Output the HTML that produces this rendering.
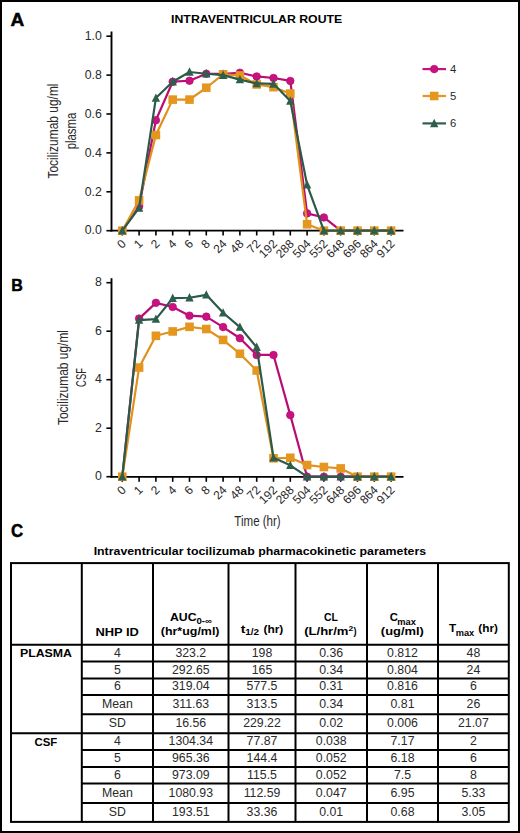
<!DOCTYPE html><html><head><meta charset="utf-8"><style>html,body{margin:0;padding:0;background:#fff;}svg{display:block;}text{font-family:"Liberation Sans",sans-serif;}</style></head><body>
<svg width="520" height="833" viewBox="0 0 520 833">
<rect x="0" y="0" width="520" height="833" fill="#fff"/>
<rect x="1" y="1" width="518" height="831" fill="none" stroke="#000" stroke-width="2"/>
<text x="10.62" y="25.60" font-size="18.46" font-weight="bold" fill="#000" textLength="13.78" lengthAdjust="spacingAndGlyphs" stroke="#000" stroke-width="0.5">A</text>
<text x="11.13" y="290.60" font-size="17.3" font-weight="bold" fill="#000" textLength="11.60" lengthAdjust="spacingAndGlyphs" stroke="#000" stroke-width="0.5">B</text>
<text x="11.11" y="537.00" font-size="18.19" font-weight="bold" fill="#000" textLength="12.15" lengthAdjust="spacingAndGlyphs" stroke="#000" stroke-width="0.5">C</text>
<text x="171.08" y="22.70" font-size="10.76" font-weight="bold" fill="#000" textLength="171.20" lengthAdjust="spacingAndGlyphs">INTRAVENTRICULAR ROUTE</text>
<line x1="111.5" y1="31.5" x2="111.5" y2="231.6" stroke="#000" stroke-width="1.9"/>
<line x1="110.6" y1="230.6" x2="403.5" y2="230.6" stroke="#000" stroke-width="1.9"/>
<line x1="106.4" y1="230.70" x2="111" y2="230.70" stroke="#000" stroke-width="1.6"/>
<text x="101.8" y="234.40" text-anchor="end" font-size="12.3" fill="#2a2a2a">0.0</text>
<line x1="106.4" y1="191.80" x2="111" y2="191.80" stroke="#000" stroke-width="1.6"/>
<text x="101.8" y="195.50" text-anchor="end" font-size="12.3" fill="#2a2a2a">0.2</text>
<line x1="106.4" y1="152.90" x2="111" y2="152.90" stroke="#000" stroke-width="1.6"/>
<text x="101.8" y="156.60" text-anchor="end" font-size="12.3" fill="#2a2a2a">0.4</text>
<line x1="106.4" y1="114.00" x2="111" y2="114.00" stroke="#000" stroke-width="1.6"/>
<text x="101.8" y="117.70" text-anchor="end" font-size="12.3" fill="#2a2a2a">0.6</text>
<line x1="106.4" y1="75.10" x2="111" y2="75.10" stroke="#000" stroke-width="1.6"/>
<text x="101.8" y="78.80" text-anchor="end" font-size="12.3" fill="#2a2a2a">0.8</text>
<line x1="106.4" y1="36.20" x2="111" y2="36.20" stroke="#000" stroke-width="1.6"/>
<text x="101.8" y="39.90" text-anchor="end" font-size="12.3" fill="#2a2a2a">1.0</text>
<line x1="122.30" y1="230.6" x2="122.30" y2="235.5" stroke="#000" stroke-width="1.6"/>
<text transform="translate(126.80,244.50) rotate(-45)" text-anchor="end" font-size="12" fill="#2a2a2a">0</text>
<line x1="139.10" y1="230.6" x2="139.10" y2="235.5" stroke="#000" stroke-width="1.6"/>
<text transform="translate(143.60,244.50) rotate(-45)" text-anchor="end" font-size="12" fill="#2a2a2a">1</text>
<line x1="155.90" y1="230.6" x2="155.90" y2="235.5" stroke="#000" stroke-width="1.6"/>
<text transform="translate(160.40,244.50) rotate(-45)" text-anchor="end" font-size="12" fill="#2a2a2a">2</text>
<line x1="172.70" y1="230.6" x2="172.70" y2="235.5" stroke="#000" stroke-width="1.6"/>
<text transform="translate(177.20,244.50) rotate(-45)" text-anchor="end" font-size="12" fill="#2a2a2a">4</text>
<line x1="189.50" y1="230.6" x2="189.50" y2="235.5" stroke="#000" stroke-width="1.6"/>
<text transform="translate(194.00,244.50) rotate(-45)" text-anchor="end" font-size="12" fill="#2a2a2a">6</text>
<line x1="206.30" y1="230.6" x2="206.30" y2="235.5" stroke="#000" stroke-width="1.6"/>
<text transform="translate(210.80,244.50) rotate(-45)" text-anchor="end" font-size="12" fill="#2a2a2a">8</text>
<line x1="223.10" y1="230.6" x2="223.10" y2="235.5" stroke="#000" stroke-width="1.6"/>
<text transform="translate(227.60,244.50) rotate(-45)" text-anchor="end" font-size="12" fill="#2a2a2a">24</text>
<line x1="239.90" y1="230.6" x2="239.90" y2="235.5" stroke="#000" stroke-width="1.6"/>
<text transform="translate(244.40,244.50) rotate(-45)" text-anchor="end" font-size="12" fill="#2a2a2a">48</text>
<line x1="256.70" y1="230.6" x2="256.70" y2="235.5" stroke="#000" stroke-width="1.6"/>
<text transform="translate(261.20,244.50) rotate(-45)" text-anchor="end" font-size="12" fill="#2a2a2a">72</text>
<line x1="273.50" y1="230.6" x2="273.50" y2="235.5" stroke="#000" stroke-width="1.6"/>
<text transform="translate(278.00,244.50) rotate(-45)" text-anchor="end" font-size="12" fill="#2a2a2a">192</text>
<line x1="290.30" y1="230.6" x2="290.30" y2="235.5" stroke="#000" stroke-width="1.6"/>
<text transform="translate(294.80,244.50) rotate(-45)" text-anchor="end" font-size="12" fill="#2a2a2a">288</text>
<line x1="307.10" y1="230.6" x2="307.10" y2="235.5" stroke="#000" stroke-width="1.6"/>
<text transform="translate(311.60,244.50) rotate(-45)" text-anchor="end" font-size="12" fill="#2a2a2a">504</text>
<line x1="323.90" y1="230.6" x2="323.90" y2="235.5" stroke="#000" stroke-width="1.6"/>
<text transform="translate(328.40,244.50) rotate(-45)" text-anchor="end" font-size="12" fill="#2a2a2a">552</text>
<line x1="340.70" y1="230.6" x2="340.70" y2="235.5" stroke="#000" stroke-width="1.6"/>
<text transform="translate(345.20,244.50) rotate(-45)" text-anchor="end" font-size="12" fill="#2a2a2a">648</text>
<line x1="357.50" y1="230.6" x2="357.50" y2="235.5" stroke="#000" stroke-width="1.6"/>
<text transform="translate(362.00,244.50) rotate(-45)" text-anchor="end" font-size="12" fill="#2a2a2a">696</text>
<line x1="374.30" y1="230.6" x2="374.30" y2="235.5" stroke="#000" stroke-width="1.6"/>
<text transform="translate(378.80,244.50) rotate(-45)" text-anchor="end" font-size="12" fill="#2a2a2a">864</text>
<line x1="391.10" y1="230.6" x2="391.10" y2="235.5" stroke="#000" stroke-width="1.6"/>
<text transform="translate(395.60,244.50) rotate(-45)" text-anchor="end" font-size="12" fill="#2a2a2a">912</text>
<text transform="translate(57.7,131) rotate(-90)" text-anchor="middle" font-size="14" fill="#2a2a2a" textLength="95" lengthAdjust="spacingAndGlyphs">Tocilizumab ug/ml</text>
<text transform="translate(75.5,131) rotate(-90)" text-anchor="middle" font-size="14" fill="#2a2a2a" textLength="36.7" lengthAdjust="spacingAndGlyphs">plasma</text>
<polyline points="122.30,230.70 139.10,206.39 155.90,120.22 172.70,81.71 189.50,80.74 206.30,73.74 223.10,73.93 239.90,72.77 256.70,76.46 273.50,78.02 290.30,80.93 307.10,213.39 323.90,217.47 340.70,230.70 357.50,230.70 374.30,230.70 391.10,230.70" fill="none" stroke="#b80d74" stroke-width="2.2" stroke-linejoin="round"/>
<circle cx="122.30" cy="230.70" r="3.8" fill="#c8127f" stroke="#b80d74" stroke-width="0.7"/>
<circle cx="139.10" cy="206.39" r="3.8" fill="#c8127f" stroke="#b80d74" stroke-width="0.7"/>
<circle cx="155.90" cy="120.22" r="3.8" fill="#c8127f" stroke="#b80d74" stroke-width="0.7"/>
<circle cx="172.70" cy="81.71" r="3.8" fill="#c8127f" stroke="#b80d74" stroke-width="0.7"/>
<circle cx="189.50" cy="80.74" r="3.8" fill="#c8127f" stroke="#b80d74" stroke-width="0.7"/>
<circle cx="206.30" cy="73.74" r="3.8" fill="#c8127f" stroke="#b80d74" stroke-width="0.7"/>
<circle cx="223.10" cy="73.93" r="3.8" fill="#c8127f" stroke="#b80d74" stroke-width="0.7"/>
<circle cx="239.90" cy="72.77" r="3.8" fill="#c8127f" stroke="#b80d74" stroke-width="0.7"/>
<circle cx="256.70" cy="76.46" r="3.8" fill="#c8127f" stroke="#b80d74" stroke-width="0.7"/>
<circle cx="273.50" cy="78.02" r="3.8" fill="#c8127f" stroke="#b80d74" stroke-width="0.7"/>
<circle cx="290.30" cy="80.93" r="3.8" fill="#c8127f" stroke="#b80d74" stroke-width="0.7"/>
<circle cx="307.10" cy="213.39" r="3.8" fill="#c8127f" stroke="#b80d74" stroke-width="0.7"/>
<circle cx="323.90" cy="217.47" r="3.8" fill="#c8127f" stroke="#b80d74" stroke-width="0.7"/>
<circle cx="340.70" cy="230.70" r="3.8" fill="#c8127f" stroke="#b80d74" stroke-width="0.7"/>
<circle cx="357.50" cy="230.70" r="3.8" fill="#c8127f" stroke="#b80d74" stroke-width="0.7"/>
<circle cx="374.30" cy="230.70" r="3.8" fill="#c8127f" stroke="#b80d74" stroke-width="0.7"/>
<circle cx="391.10" cy="230.70" r="3.8" fill="#c8127f" stroke="#b80d74" stroke-width="0.7"/>
<polyline points="122.30,230.70 139.10,200.36 155.90,135.01 172.70,99.61 189.50,99.61 206.30,87.74 223.10,74.32 239.90,75.49 256.70,84.44 273.50,87.16 290.30,93.58 307.10,224.28 323.90,230.70 340.70,230.70 357.50,230.70 374.30,230.70 391.10,230.70" fill="none" stroke="#e0901c" stroke-width="2.2" stroke-linejoin="round"/>
<rect x="118.00" y="226.40" width="8.6" height="8.6" fill="#e5961f"/>
<rect x="134.80" y="196.06" width="8.6" height="8.6" fill="#e5961f"/>
<rect x="151.60" y="130.71" width="8.6" height="8.6" fill="#e5961f"/>
<rect x="168.40" y="95.31" width="8.6" height="8.6" fill="#e5961f"/>
<rect x="185.20" y="95.31" width="8.6" height="8.6" fill="#e5961f"/>
<rect x="202.00" y="83.44" width="8.6" height="8.6" fill="#e5961f"/>
<rect x="218.80" y="70.02" width="8.6" height="8.6" fill="#e5961f"/>
<rect x="235.60" y="71.19" width="8.6" height="8.6" fill="#e5961f"/>
<rect x="252.40" y="80.14" width="8.6" height="8.6" fill="#e5961f"/>
<rect x="269.20" y="82.86" width="8.6" height="8.6" fill="#e5961f"/>
<rect x="286.00" y="89.28" width="8.6" height="8.6" fill="#e5961f"/>
<rect x="302.80" y="219.98" width="8.6" height="8.6" fill="#e5961f"/>
<rect x="319.60" y="226.40" width="8.6" height="8.6" fill="#e5961f"/>
<rect x="336.40" y="226.40" width="8.6" height="8.6" fill="#e5961f"/>
<rect x="353.20" y="226.40" width="8.6" height="8.6" fill="#e5961f"/>
<rect x="370.00" y="226.40" width="8.6" height="8.6" fill="#e5961f"/>
<rect x="386.80" y="226.40" width="8.6" height="8.6" fill="#e5961f"/>
<polyline points="122.30,230.70 139.10,207.94 155.90,98.05 172.70,81.71 189.50,71.99 206.30,73.74 223.10,75.10 239.90,79.57 256.70,83.46 273.50,83.85 290.30,100.97 307.10,184.80 323.90,230.70 340.70,230.70 357.50,230.70 374.30,230.70 391.10,230.70" fill="none" stroke="#2b5a48" stroke-width="2.2" stroke-linejoin="round"/>
<path d="M122.30 226.08L126.50 234.48L118.10 234.48Z" fill="#2e5f4c"/>
<path d="M139.10 203.32L143.30 211.72L134.90 211.72Z" fill="#2e5f4c"/>
<path d="M155.90 93.43L160.10 101.83L151.70 101.83Z" fill="#2e5f4c"/>
<path d="M172.70 77.09L176.90 85.49L168.50 85.49Z" fill="#2e5f4c"/>
<path d="M189.50 67.37L193.70 75.77L185.30 75.77Z" fill="#2e5f4c"/>
<path d="M206.30 69.12L210.50 77.52L202.10 77.52Z" fill="#2e5f4c"/>
<path d="M223.10 70.48L227.30 78.88L218.90 78.88Z" fill="#2e5f4c"/>
<path d="M239.90 74.95L244.10 83.35L235.70 83.35Z" fill="#2e5f4c"/>
<path d="M256.70 78.84L260.90 87.24L252.50 87.24Z" fill="#2e5f4c"/>
<path d="M273.50 79.23L277.70 87.63L269.30 87.63Z" fill="#2e5f4c"/>
<path d="M290.30 96.35L294.50 104.75L286.10 104.75Z" fill="#2e5f4c"/>
<path d="M307.10 180.18L311.30 188.58L302.90 188.58Z" fill="#2e5f4c"/>
<path d="M323.90 226.08L328.10 234.48L319.70 234.48Z" fill="#2e5f4c"/>
<path d="M340.70 226.08L344.90 234.48L336.50 234.48Z" fill="#2e5f4c"/>
<path d="M357.50 226.08L361.70 234.48L353.30 234.48Z" fill="#2e5f4c"/>
<path d="M374.30 226.08L378.50 234.48L370.10 234.48Z" fill="#2e5f4c"/>
<path d="M391.10 226.08L395.30 234.48L386.90 234.48Z" fill="#2e5f4c"/>
<line x1="111.5" y1="278.2" x2="111.5" y2="477.9" stroke="#000" stroke-width="1.9"/>
<line x1="110.6" y1="476.9" x2="403.5" y2="476.9" stroke="#000" stroke-width="1.9"/>
<line x1="106.4" y1="476.70" x2="111" y2="476.70" stroke="#000" stroke-width="1.6"/>
<text x="101.8" y="480.40" text-anchor="end" font-size="12.3" fill="#2a2a2a">0</text>
<line x1="106.4" y1="428.20" x2="111" y2="428.20" stroke="#000" stroke-width="1.6"/>
<text x="101.8" y="431.90" text-anchor="end" font-size="12.3" fill="#2a2a2a">2</text>
<line x1="106.4" y1="379.70" x2="111" y2="379.70" stroke="#000" stroke-width="1.6"/>
<text x="101.8" y="383.40" text-anchor="end" font-size="12.3" fill="#2a2a2a">4</text>
<line x1="106.4" y1="331.20" x2="111" y2="331.20" stroke="#000" stroke-width="1.6"/>
<text x="101.8" y="334.90" text-anchor="end" font-size="12.3" fill="#2a2a2a">6</text>
<line x1="106.4" y1="282.70" x2="111" y2="282.70" stroke="#000" stroke-width="1.6"/>
<text x="101.8" y="286.40" text-anchor="end" font-size="12.3" fill="#2a2a2a">8</text>
<line x1="122.30" y1="476.9" x2="122.30" y2="481.79999999999995" stroke="#000" stroke-width="1.6"/>
<text transform="translate(126.80,490.70) rotate(-45)" text-anchor="end" font-size="12" fill="#2a2a2a">0</text>
<line x1="139.10" y1="476.9" x2="139.10" y2="481.79999999999995" stroke="#000" stroke-width="1.6"/>
<text transform="translate(143.60,490.70) rotate(-45)" text-anchor="end" font-size="12" fill="#2a2a2a">1</text>
<line x1="155.90" y1="476.9" x2="155.90" y2="481.79999999999995" stroke="#000" stroke-width="1.6"/>
<text transform="translate(160.40,490.70) rotate(-45)" text-anchor="end" font-size="12" fill="#2a2a2a">2</text>
<line x1="172.70" y1="476.9" x2="172.70" y2="481.79999999999995" stroke="#000" stroke-width="1.6"/>
<text transform="translate(177.20,490.70) rotate(-45)" text-anchor="end" font-size="12" fill="#2a2a2a">4</text>
<line x1="189.50" y1="476.9" x2="189.50" y2="481.79999999999995" stroke="#000" stroke-width="1.6"/>
<text transform="translate(194.00,490.70) rotate(-45)" text-anchor="end" font-size="12" fill="#2a2a2a">6</text>
<line x1="206.30" y1="476.9" x2="206.30" y2="481.79999999999995" stroke="#000" stroke-width="1.6"/>
<text transform="translate(210.80,490.70) rotate(-45)" text-anchor="end" font-size="12" fill="#2a2a2a">8</text>
<line x1="223.10" y1="476.9" x2="223.10" y2="481.79999999999995" stroke="#000" stroke-width="1.6"/>
<text transform="translate(227.60,490.70) rotate(-45)" text-anchor="end" font-size="12" fill="#2a2a2a">24</text>
<line x1="239.90" y1="476.9" x2="239.90" y2="481.79999999999995" stroke="#000" stroke-width="1.6"/>
<text transform="translate(244.40,490.70) rotate(-45)" text-anchor="end" font-size="12" fill="#2a2a2a">48</text>
<line x1="256.70" y1="476.9" x2="256.70" y2="481.79999999999995" stroke="#000" stroke-width="1.6"/>
<text transform="translate(261.20,490.70) rotate(-45)" text-anchor="end" font-size="12" fill="#2a2a2a">72</text>
<line x1="273.50" y1="476.9" x2="273.50" y2="481.79999999999995" stroke="#000" stroke-width="1.6"/>
<text transform="translate(278.00,490.70) rotate(-45)" text-anchor="end" font-size="12" fill="#2a2a2a">192</text>
<line x1="290.30" y1="476.9" x2="290.30" y2="481.79999999999995" stroke="#000" stroke-width="1.6"/>
<text transform="translate(294.80,490.70) rotate(-45)" text-anchor="end" font-size="12" fill="#2a2a2a">288</text>
<line x1="307.10" y1="476.9" x2="307.10" y2="481.79999999999995" stroke="#000" stroke-width="1.6"/>
<text transform="translate(311.60,490.70) rotate(-45)" text-anchor="end" font-size="12" fill="#2a2a2a">504</text>
<line x1="323.90" y1="476.9" x2="323.90" y2="481.79999999999995" stroke="#000" stroke-width="1.6"/>
<text transform="translate(328.40,490.70) rotate(-45)" text-anchor="end" font-size="12" fill="#2a2a2a">552</text>
<line x1="340.70" y1="476.9" x2="340.70" y2="481.79999999999995" stroke="#000" stroke-width="1.6"/>
<text transform="translate(345.20,490.70) rotate(-45)" text-anchor="end" font-size="12" fill="#2a2a2a">648</text>
<line x1="357.50" y1="476.9" x2="357.50" y2="481.79999999999995" stroke="#000" stroke-width="1.6"/>
<text transform="translate(362.00,490.70) rotate(-45)" text-anchor="end" font-size="12" fill="#2a2a2a">696</text>
<line x1="374.30" y1="476.9" x2="374.30" y2="481.79999999999995" stroke="#000" stroke-width="1.6"/>
<text transform="translate(378.80,490.70) rotate(-45)" text-anchor="end" font-size="12" fill="#2a2a2a">864</text>
<line x1="391.10" y1="476.9" x2="391.10" y2="481.79999999999995" stroke="#000" stroke-width="1.6"/>
<text transform="translate(395.60,490.70) rotate(-45)" text-anchor="end" font-size="12" fill="#2a2a2a">912</text>
<text transform="translate(68.2,377.5) rotate(-90)" text-anchor="middle" font-size="14" fill="#2a2a2a" textLength="95" lengthAdjust="spacingAndGlyphs">Tocilizumab ug/ml</text>
<text transform="translate(85.9,377.5) rotate(-90)" text-anchor="middle" font-size="14" fill="#2a2a2a" textLength="18.8" lengthAdjust="spacingAndGlyphs">CSF</text>
<polyline points="122.30,476.70 139.10,318.59 155.90,302.83 172.70,306.95 189.50,315.68 206.30,316.65 223.10,327.08 239.90,338.23 256.70,354.97 273.50,354.97 290.30,415.11 307.10,476.70 323.90,476.70 340.70,476.70 357.50,476.70 374.30,476.70 391.10,476.70" fill="none" stroke="#b80d74" stroke-width="2.2" stroke-linejoin="round"/>
<circle cx="122.30" cy="476.70" r="3.8" fill="#c8127f" stroke="#b80d74" stroke-width="0.7"/>
<circle cx="139.10" cy="318.59" r="3.8" fill="#c8127f" stroke="#b80d74" stroke-width="0.7"/>
<circle cx="155.90" cy="302.83" r="3.8" fill="#c8127f" stroke="#b80d74" stroke-width="0.7"/>
<circle cx="172.70" cy="306.95" r="3.8" fill="#c8127f" stroke="#b80d74" stroke-width="0.7"/>
<circle cx="189.50" cy="315.68" r="3.8" fill="#c8127f" stroke="#b80d74" stroke-width="0.7"/>
<circle cx="206.30" cy="316.65" r="3.8" fill="#c8127f" stroke="#b80d74" stroke-width="0.7"/>
<circle cx="223.10" cy="327.08" r="3.8" fill="#c8127f" stroke="#b80d74" stroke-width="0.7"/>
<circle cx="239.90" cy="338.23" r="3.8" fill="#c8127f" stroke="#b80d74" stroke-width="0.7"/>
<circle cx="256.70" cy="354.97" r="3.8" fill="#c8127f" stroke="#b80d74" stroke-width="0.7"/>
<circle cx="273.50" cy="354.97" r="3.8" fill="#c8127f" stroke="#b80d74" stroke-width="0.7"/>
<circle cx="290.30" cy="415.11" r="3.8" fill="#c8127f" stroke="#b80d74" stroke-width="0.7"/>
<circle cx="307.10" cy="476.70" r="3.8" fill="#c8127f" stroke="#b80d74" stroke-width="0.7"/>
<circle cx="323.90" cy="476.70" r="3.8" fill="#c8127f" stroke="#b80d74" stroke-width="0.7"/>
<circle cx="340.70" cy="476.70" r="3.8" fill="#c8127f" stroke="#b80d74" stroke-width="0.7"/>
<circle cx="357.50" cy="476.70" r="3.8" fill="#c8127f" stroke="#b80d74" stroke-width="0.7"/>
<circle cx="374.30" cy="476.70" r="3.8" fill="#c8127f" stroke="#b80d74" stroke-width="0.7"/>
<circle cx="391.10" cy="476.70" r="3.8" fill="#c8127f" stroke="#b80d74" stroke-width="0.7"/>
<polyline points="122.30,476.70 139.10,367.57 155.90,335.81 172.70,331.44 189.50,326.84 206.30,329.02 223.10,339.93 239.90,353.75 256.70,370.49 273.50,458.27 290.30,457.78 307.10,465.06 323.90,467.00 340.70,468.45 357.50,476.70 374.30,476.70 391.10,476.70" fill="none" stroke="#e0901c" stroke-width="2.2" stroke-linejoin="round"/>
<rect x="118.00" y="472.40" width="8.6" height="8.6" fill="#e5961f"/>
<rect x="134.80" y="363.27" width="8.6" height="8.6" fill="#e5961f"/>
<rect x="151.60" y="331.51" width="8.6" height="8.6" fill="#e5961f"/>
<rect x="168.40" y="327.14" width="8.6" height="8.6" fill="#e5961f"/>
<rect x="185.20" y="322.54" width="8.6" height="8.6" fill="#e5961f"/>
<rect x="202.00" y="324.72" width="8.6" height="8.6" fill="#e5961f"/>
<rect x="218.80" y="335.63" width="8.6" height="8.6" fill="#e5961f"/>
<rect x="235.60" y="349.45" width="8.6" height="8.6" fill="#e5961f"/>
<rect x="252.40" y="366.19" width="8.6" height="8.6" fill="#e5961f"/>
<rect x="269.20" y="453.97" width="8.6" height="8.6" fill="#e5961f"/>
<rect x="286.00" y="453.48" width="8.6" height="8.6" fill="#e5961f"/>
<rect x="302.80" y="460.76" width="8.6" height="8.6" fill="#e5961f"/>
<rect x="319.60" y="462.70" width="8.6" height="8.6" fill="#e5961f"/>
<rect x="336.40" y="464.15" width="8.6" height="8.6" fill="#e5961f"/>
<rect x="353.20" y="472.40" width="8.6" height="8.6" fill="#e5961f"/>
<rect x="370.00" y="472.40" width="8.6" height="8.6" fill="#e5961f"/>
<rect x="386.80" y="472.40" width="8.6" height="8.6" fill="#e5961f"/>
<polyline points="122.30,476.70 139.10,320.04 155.90,319.07 172.70,298.22 189.50,297.74 206.30,294.82 223.10,312.77 239.90,327.08 256.70,347.20 273.50,457.78 290.30,465.30 307.10,476.70 323.90,476.70 340.70,476.70 357.50,476.70 374.30,476.70 391.10,476.70" fill="none" stroke="#2b5a48" stroke-width="2.2" stroke-linejoin="round"/>
<path d="M122.30 472.08L126.50 480.48L118.10 480.48Z" fill="#2e5f4c"/>
<path d="M139.10 315.42L143.30 323.82L134.90 323.82Z" fill="#2e5f4c"/>
<path d="M155.90 314.45L160.10 322.85L151.70 322.85Z" fill="#2e5f4c"/>
<path d="M172.70 293.60L176.90 302.00L168.50 302.00Z" fill="#2e5f4c"/>
<path d="M189.50 293.12L193.70 301.51L185.30 301.51Z" fill="#2e5f4c"/>
<path d="M206.30 290.20L210.50 298.60L202.10 298.60Z" fill="#2e5f4c"/>
<path d="M223.10 308.15L227.30 316.55L218.90 316.55Z" fill="#2e5f4c"/>
<path d="M239.90 322.46L244.10 330.86L235.70 330.86Z" fill="#2e5f4c"/>
<path d="M256.70 342.58L260.90 350.98L252.50 350.98Z" fill="#2e5f4c"/>
<path d="M273.50 453.16L277.70 461.56L269.30 461.56Z" fill="#2e5f4c"/>
<path d="M290.30 460.68L294.50 469.08L286.10 469.08Z" fill="#2e5f4c"/>
<path d="M307.10 472.08L311.30 480.48L302.90 480.48Z" fill="#2e5f4c"/>
<path d="M323.90 472.08L328.10 480.48L319.70 480.48Z" fill="#2e5f4c"/>
<path d="M340.70 472.08L344.90 480.48L336.50 480.48Z" fill="#2e5f4c"/>
<path d="M357.50 472.08L361.70 480.48L353.30 480.48Z" fill="#2e5f4c"/>
<path d="M374.30 472.08L378.50 480.48L370.10 480.48Z" fill="#2e5f4c"/>
<path d="M391.10 472.08L395.30 480.48L386.90 480.48Z" fill="#2e5f4c"/>
<line x1="422.5" y1="69.1" x2="446" y2="69.1" stroke="#c8127f" stroke-width="2.2"/>
<circle cx="434.20" cy="69.10" r="3.8" fill="#c8127f" stroke="#b80d74" stroke-width="0.7"/>
<text x="450" y="73.1" font-size="11.3" fill="#2a2a2a">4</text>
<line x1="422.5" y1="96.0" x2="446" y2="96.0" stroke="#e5961f" stroke-width="2.2"/>
<rect x="429.90" y="91.70" width="8.6" height="8.6" fill="#e5961f"/>
<text x="450" y="100.0" font-size="11.3" fill="#2a2a2a">5</text>
<line x1="422.5" y1="123.4" x2="446" y2="123.4" stroke="#2e5f4c" stroke-width="2.2"/>
<path d="M434.20 118.78L438.40 127.18L430.00 127.18Z" fill="#2e5f4c"/>
<text x="450" y="127.4" font-size="11.3" fill="#2a2a2a">6</text>
<text x="234.34" y="525.80" font-size="14.2" fill="#2a2a2a" textLength="46.37" lengthAdjust="spacingAndGlyphs">Time (hr)</text>
<text x="93.67" y="554.60" font-size="11.77" font-weight="bold" fill="#000" textLength="332.43" lengthAdjust="spacingAndGlyphs">Intraventricular tocilizumab pharmacokinetic parameters</text>
<rect x="11" y="563.1" width="497.8" height="258.79999999999995" fill="none" stroke="#000" stroke-width="2.0"/>
<line x1="81.8" y1="563.1" x2="81.8" y2="821.9" stroke="#000" stroke-width="2.0"/>
<line x1="153" y1="563.1" x2="153" y2="821.9" stroke="#000" stroke-width="2.0"/>
<line x1="228.5" y1="563.1" x2="228.5" y2="821.9" stroke="#000" stroke-width="2.0"/>
<line x1="295.5" y1="563.1" x2="295.5" y2="821.9" stroke="#000" stroke-width="2.0"/>
<line x1="367" y1="563.1" x2="367" y2="821.9" stroke="#000" stroke-width="2.0"/>
<line x1="438" y1="563.1" x2="438" y2="821.9" stroke="#000" stroke-width="2.0"/>
<line x1="11" y1="644.7" x2="508.8" y2="644.7" stroke="#000" stroke-width="2.0"/>
<line x1="11" y1="733.3" x2="508.8" y2="733.3" stroke="#000" stroke-width="2.0"/>
<line x1="81.8" y1="661.6" x2="508.8" y2="661.6" stroke="#000" stroke-width="2.0"/>
<line x1="81.8" y1="678.4" x2="508.8" y2="678.4" stroke="#000" stroke-width="2.0"/>
<line x1="81.8" y1="695.0" x2="508.8" y2="695.0" stroke="#000" stroke-width="2.0"/>
<line x1="81.8" y1="714.2" x2="508.8" y2="714.2" stroke="#000" stroke-width="2.0"/>
<line x1="81.8" y1="750.0" x2="508.8" y2="750.0" stroke="#000" stroke-width="2.0"/>
<line x1="81.8" y1="767.0" x2="508.8" y2="767.0" stroke="#000" stroke-width="2.0"/>
<line x1="81.8" y1="783.6" x2="508.8" y2="783.6" stroke="#000" stroke-width="2.0"/>
<line x1="81.8" y1="803.1" x2="508.8" y2="803.1" stroke="#000" stroke-width="2.0"/>
<text x="95.44" y="635.60" font-size="11.4" font-weight="bold" fill="#000" textLength="43.50" lengthAdjust="spacingAndGlyphs">NHP ID</text>
<text x="169.99" y="621.00" font-size="11.4" font-weight="bold" fill="#000" textLength="26.59" lengthAdjust="spacingAndGlyphs">AUC</text>
<text x="196.52" y="623.90" font-size="8.6" font-weight="bold" fill="#000" textLength="15.41" lengthAdjust="spacingAndGlyphs">0-∞</text>
<text x="160.78" y="634.90" font-size="11.4" font-weight="bold" fill="#000" textLength="58.74" lengthAdjust="spacingAndGlyphs">(hr*ug/ml)</text>
<text x="240.73" y="632.50" font-size="11.4" font-weight="bold" fill="#000" textLength="4.64" lengthAdjust="spacingAndGlyphs">t</text>
<text x="245.27" y="635.40" font-size="8.6" font-weight="bold" fill="#000" textLength="13.82" lengthAdjust="spacingAndGlyphs">1/2</text>
<text x="263.41" y="632.50" font-size="11.4" font-weight="bold" fill="#000" textLength="19.89" lengthAdjust="spacingAndGlyphs">(hr)</text>
<text x="323.97" y="620.80" font-size="11.4" font-weight="bold" fill="#000" textLength="13.95" lengthAdjust="spacingAndGlyphs">CL</text>
<text x="304.15" y="634.60" font-size="11.4" font-weight="bold" fill="#000" textLength="44.36" lengthAdjust="spacingAndGlyphs">(L/hr/m</text>
<text x="348.60" y="630.90" font-size="7.2" font-weight="bold" fill="#000" textLength="4.74" lengthAdjust="spacingAndGlyphs">2</text>
<text x="353.39" y="634.60" font-size="11.4" font-weight="bold" fill="#000" textLength="3.07" lengthAdjust="spacingAndGlyphs">)</text>
<text x="389.74" y="621.20" font-size="11.4" font-weight="bold" fill="#000" textLength="8.17" lengthAdjust="spacingAndGlyphs">C</text>
<text x="397.29" y="624.50" font-size="8.6" font-weight="bold" fill="#000" textLength="18.58" lengthAdjust="spacingAndGlyphs">max</text>
<text x="380.86" y="635.00" font-size="11.4" font-weight="bold" fill="#000" textLength="42.98" lengthAdjust="spacingAndGlyphs">(ug/ml)</text>
<text x="449.07" y="632.30" font-size="11.4" font-weight="bold" fill="#000" textLength="7.16" lengthAdjust="spacingAndGlyphs">T</text>
<text x="455.69" y="635.50" font-size="8.6" font-weight="bold" fill="#000" textLength="18.48" lengthAdjust="spacingAndGlyphs">max</text>
<text x="478.31" y="632.30" font-size="11.4" font-weight="bold" fill="#000" textLength="19.68" lengthAdjust="spacingAndGlyphs">(hr)</text>
<text x="19.98" y="656.80" font-size="11.4" font-weight="bold" fill="#000" textLength="52.05" lengthAdjust="spacingAndGlyphs">PLASMA</text>
<text x="34.53" y="746.20" font-size="11.4" font-weight="bold" fill="#000" textLength="22.78" lengthAdjust="spacingAndGlyphs">CSF</text>
<text x="117.4" y="656.9" font-size="12.3" fill="#2a2a2a" text-anchor="middle">4</text>
<text x="190.8" y="656.9" font-size="12.3" fill="#2a2a2a" text-anchor="middle">323.2</text>
<text x="262.0" y="656.9" font-size="12.3" fill="#2a2a2a" text-anchor="middle">198</text>
<text x="331.2" y="656.9" font-size="12.3" fill="#2a2a2a" text-anchor="middle">0.36</text>
<text x="402.5" y="656.9" font-size="12.3" fill="#2a2a2a" text-anchor="middle">0.812</text>
<text x="473.4" y="656.9" font-size="12.3" fill="#2a2a2a" text-anchor="middle">48</text>
<text x="117.4" y="673.5" font-size="12.3" fill="#2a2a2a" text-anchor="middle">5</text>
<text x="190.8" y="673.5" font-size="12.3" fill="#2a2a2a" text-anchor="middle">292.65</text>
<text x="262.0" y="673.5" font-size="12.3" fill="#2a2a2a" text-anchor="middle">165</text>
<text x="331.2" y="673.5" font-size="12.3" fill="#2a2a2a" text-anchor="middle">0.34</text>
<text x="402.5" y="673.5" font-size="12.3" fill="#2a2a2a" text-anchor="middle">0.804</text>
<text x="473.4" y="673.5" font-size="12.3" fill="#2a2a2a" text-anchor="middle">24</text>
<text x="117.4" y="690.1" font-size="12.3" fill="#2a2a2a" text-anchor="middle">6</text>
<text x="190.8" y="690.1" font-size="12.3" fill="#2a2a2a" text-anchor="middle">319.04</text>
<text x="262.0" y="690.1" font-size="12.3" fill="#2a2a2a" text-anchor="middle">577.5</text>
<text x="331.2" y="690.1" font-size="12.3" fill="#2a2a2a" text-anchor="middle">0.31</text>
<text x="402.5" y="690.1" font-size="12.3" fill="#2a2a2a" text-anchor="middle">0.816</text>
<text x="473.4" y="690.1" font-size="12.3" fill="#2a2a2a" text-anchor="middle">6</text>
<text x="117.4" y="708.1" font-size="12.3" fill="#2a2a2a" text-anchor="middle">Mean</text>
<text x="190.8" y="708.1" font-size="12.3" fill="#2a2a2a" text-anchor="middle">311.63</text>
<text x="262.0" y="708.1" font-size="12.3" fill="#2a2a2a" text-anchor="middle">313.5</text>
<text x="331.2" y="708.1" font-size="12.3" fill="#2a2a2a" text-anchor="middle">0.34</text>
<text x="402.5" y="708.1" font-size="12.3" fill="#2a2a2a" text-anchor="middle">0.81</text>
<text x="473.4" y="708.1" font-size="12.3" fill="#2a2a2a" text-anchor="middle">26</text>
<text x="117.4" y="727.3" font-size="12.3" fill="#2a2a2a" text-anchor="middle">SD</text>
<text x="190.8" y="727.3" font-size="12.3" fill="#2a2a2a" text-anchor="middle">16.56</text>
<text x="262.0" y="727.3" font-size="12.3" fill="#2a2a2a" text-anchor="middle">229.22</text>
<text x="331.2" y="727.3" font-size="12.3" fill="#2a2a2a" text-anchor="middle">0.02</text>
<text x="402.5" y="727.3" font-size="12.3" fill="#2a2a2a" text-anchor="middle">0.006</text>
<text x="473.4" y="727.3" font-size="12.3" fill="#2a2a2a" text-anchor="middle">21.07</text>
<text x="117.4" y="745.3" font-size="12.3" fill="#2a2a2a" text-anchor="middle">4</text>
<text x="190.8" y="745.3" font-size="12.3" fill="#2a2a2a" text-anchor="middle">1304.34</text>
<text x="262.0" y="745.3" font-size="12.3" fill="#2a2a2a" text-anchor="middle">77.87</text>
<text x="331.2" y="745.3" font-size="12.3" fill="#2a2a2a" text-anchor="middle">0.038</text>
<text x="402.5" y="745.3" font-size="12.3" fill="#2a2a2a" text-anchor="middle">7.17</text>
<text x="473.4" y="745.3" font-size="12.3" fill="#2a2a2a" text-anchor="middle">2</text>
<text x="117.4" y="762.4" font-size="12.3" fill="#2a2a2a" text-anchor="middle">5</text>
<text x="190.8" y="762.4" font-size="12.3" fill="#2a2a2a" text-anchor="middle">965.36</text>
<text x="262.0" y="762.4" font-size="12.3" fill="#2a2a2a" text-anchor="middle">144.4</text>
<text x="331.2" y="762.4" font-size="12.3" fill="#2a2a2a" text-anchor="middle">0.052</text>
<text x="402.5" y="762.4" font-size="12.3" fill="#2a2a2a" text-anchor="middle">6.18</text>
<text x="473.4" y="762.4" font-size="12.3" fill="#2a2a2a" text-anchor="middle">6</text>
<text x="117.4" y="779.1" font-size="12.3" fill="#2a2a2a" text-anchor="middle">6</text>
<text x="190.8" y="779.1" font-size="12.3" fill="#2a2a2a" text-anchor="middle">973.09</text>
<text x="262.0" y="779.1" font-size="12.3" fill="#2a2a2a" text-anchor="middle">115.5</text>
<text x="331.2" y="779.1" font-size="12.3" fill="#2a2a2a" text-anchor="middle">0.052</text>
<text x="402.5" y="779.1" font-size="12.3" fill="#2a2a2a" text-anchor="middle">7.5</text>
<text x="473.4" y="779.1" font-size="12.3" fill="#2a2a2a" text-anchor="middle">8</text>
<text x="117.4" y="797.0" font-size="12.3" fill="#2a2a2a" text-anchor="middle">Mean</text>
<text x="190.8" y="797.0" font-size="12.3" fill="#2a2a2a" text-anchor="middle">1080.93</text>
<text x="262.0" y="797.0" font-size="12.3" fill="#2a2a2a" text-anchor="middle">112.59</text>
<text x="331.2" y="797.0" font-size="12.3" fill="#2a2a2a" text-anchor="middle">0.047</text>
<text x="402.5" y="797.0" font-size="12.3" fill="#2a2a2a" text-anchor="middle">6.95</text>
<text x="473.4" y="797.0" font-size="12.3" fill="#2a2a2a" text-anchor="middle">5.33</text>
<text x="117.4" y="816.3" font-size="12.3" fill="#2a2a2a" text-anchor="middle">SD</text>
<text x="190.8" y="816.3" font-size="12.3" fill="#2a2a2a" text-anchor="middle">193.51</text>
<text x="262.0" y="816.3" font-size="12.3" fill="#2a2a2a" text-anchor="middle">33.36</text>
<text x="331.2" y="816.3" font-size="12.3" fill="#2a2a2a" text-anchor="middle">0.01</text>
<text x="402.5" y="816.3" font-size="12.3" fill="#2a2a2a" text-anchor="middle">0.68</text>
<text x="473.4" y="816.3" font-size="12.3" fill="#2a2a2a" text-anchor="middle">3.05</text>
</svg></body></html>
